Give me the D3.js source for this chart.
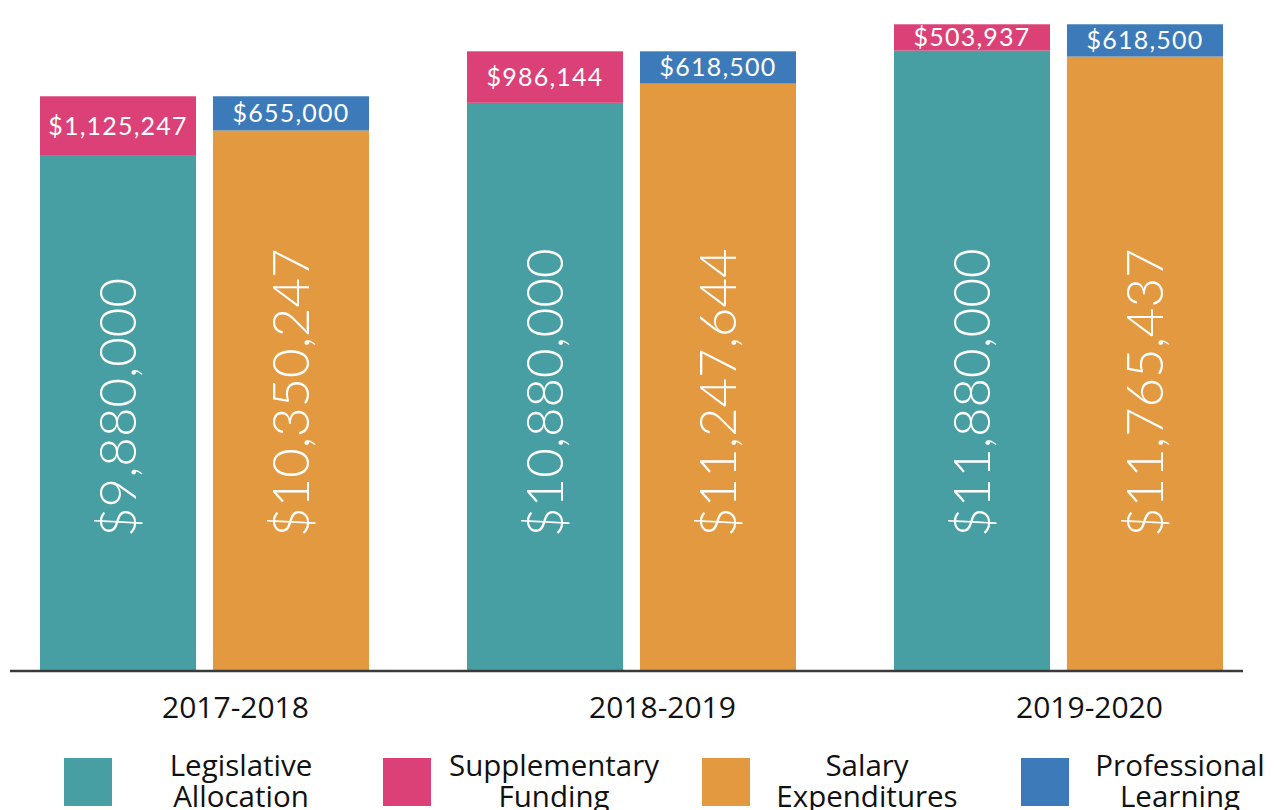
<!DOCTYPE html>
<html>
<head>
<meta charset="utf-8">
<script src="https://cdn.jsdelivr.net/npm/d3@7"></script>
<style>
  html, body { margin: 0; padding: 0; background: #fff; }
  svg { display: block; }
</style>
</head>
<body>
<svg id="chart" width="1274" height="810"></svg>
<script>
// Fiscal years shown on the x axis
const years = ["2017-2018", "2018-2019", "2019-2020"];

// Funding side (left bar of each year)
const legislativeAllocation = [9880000, 10880000, 11880000];
const supplementaryFunding = [1125247, 986144, 503937];

// Spending side (right bar of each year)
const salaryExpenditures = [10350247, 11247644, 11765437];
const professionalLearning = [655000, 618500, 618500];

// Legend entries, two lines each
const legendLabels = [
  ["Legislative", "Allocation"],
  ["Supplementary", "Funding"],
  ["Salary", "Expenditures"],
  ["Professional", "Learning"]
];

const colors = {
  legislative: "#479fa3",
  supplementary: "#db4176",
  salary: "#e2993f",
  professional: "#3c7aba"
};
const legendColors = [colors.legislative, colors.supplementary, colors.salary, colors.professional];

const svg = d3.select("#chart");
const baseY = 671;
const valueFont = "Lato, 'DejaVu Sans', sans-serif";
const labelFont = "'Open Sans', 'Noto Sans', sans-serif";
const fmt = v => "$" + d3.format(",")(v);

const x = d3.scaleBand().domain(years).range([40, 1223]).paddingInner(98 / 427).paddingOuter(0);
const xSide = d3.scaleBand().domain(["fund", "spend"]).range([0, x.bandwidth()]).paddingInner(0.098);
const y = d3.scaleLinear().domain([0, 12600000]).range([baseY, 13]);

// One record per bar: a base segment plus a top segment
const bars = [];
years.forEach((yr, i) => {
  bars.push({ year: yr, side: "fund", base: legislativeAllocation[i], top: supplementaryFunding[i],
              baseColor: colors.legislative, topColor: colors.supplementary });
  bars.push({ year: yr, side: "spend", base: salaryExpenditures[i], top: professionalLearning[i],
              baseColor: colors.salary, topColor: colors.professional });
});

const g = svg.append("g");
const barG = g.selectAll("g.bar").data(bars).join("g")
  .attr("class", "bar")
  .attr("transform", d => `translate(${x(d.year) + xSide(d.side)},0)`);

const bw = xSide.bandwidth();

// base segment
barG.append("rect")
  .attr("x", 0).attr("width", bw)
  .attr("y", d => y(d.base))
  .attr("height", d => y(0) - y(d.base))
  .attr("fill", d => d.baseColor);

// stacked top segment
barG.append("rect")
  .attr("x", 0).attr("width", bw)
  .attr("y", d => y(d.base + d.top))
  .attr("height", d => y(d.base) - y(d.base + d.top))
  .attr("fill", d => d.topColor);

// top segment value
barG.append("text")
  .attr("x", bw / 2)
  .attr("y", d => (y(d.base) + y(d.base + d.top)) / 2)
  .attr("dy", "0.36em")
  .attr("text-anchor", "middle")
  .attr("fill", "#fff")
  .attr("font-family", valueFont)
  .attr("font-size", 25)
  .attr("letter-spacing", 1.2)
  .text(d => fmt(d.top));

// base segment value, rotated
barG.append("text")
  .attr("transform", `translate(${bw / 2},537) rotate(-90)`)
  .attr("dy", "0.36em")
  .attr("text-anchor", "start")
  .attr("fill", "#fff")
  .attr("font-family", valueFont)
  .attr("font-weight", 300)
  .attr("font-size", 51)
  .text(d => fmt(d.base));

// baseline
const axis = d3.axisBottom(x).tickSize(0).tickPadding(0).tickFormat("");
g.append("g")
  .attr("transform", `translate(0,${baseY})`)
  .call(axis)
  .call(s => s.select(".domain").attr("d", "M10,0H1243").attr("stroke", "#3a3a3a").attr("stroke-width", 2.5));

// year labels
g.selectAll("text.year").data(years).join("text")
  .attr("class", "year")
  .attr("x", d => x(d) + x.bandwidth() / 2 + 31)
  .attr("y", 718)
  .attr("text-anchor", "middle")
  .attr("fill", "#111")
  .attr("font-family", labelFont)
  .attr("font-size", 30)
  .text(d => d);

// legend: swatches and two-line captions
const legend = g.selectAll("g.legend").data(legendLabels).join("g")
  .attr("class", "legend");

legend.append("rect")
  .attr("x", (d, i) => 64 + i * 319).attr("y", 758)
  .attr("width", 48).attr("height", 48)
  .attr("fill", (d, i) => legendColors[i]);

legend.append("text")
  .attr("text-anchor", "middle")
  .attr("fill", "#111")
  .attr("font-family", labelFont)
  .attr("font-size", 29.5)
  .each(function (d, i) {
    d3.select(this).selectAll("tspan").data(d).join("tspan")
      .attr("x", 241 + i * 313)
      .attr("y", (t, j) => 776 + j * 31)
      .text(t => t);
  });
</script>
</body>
</html>
